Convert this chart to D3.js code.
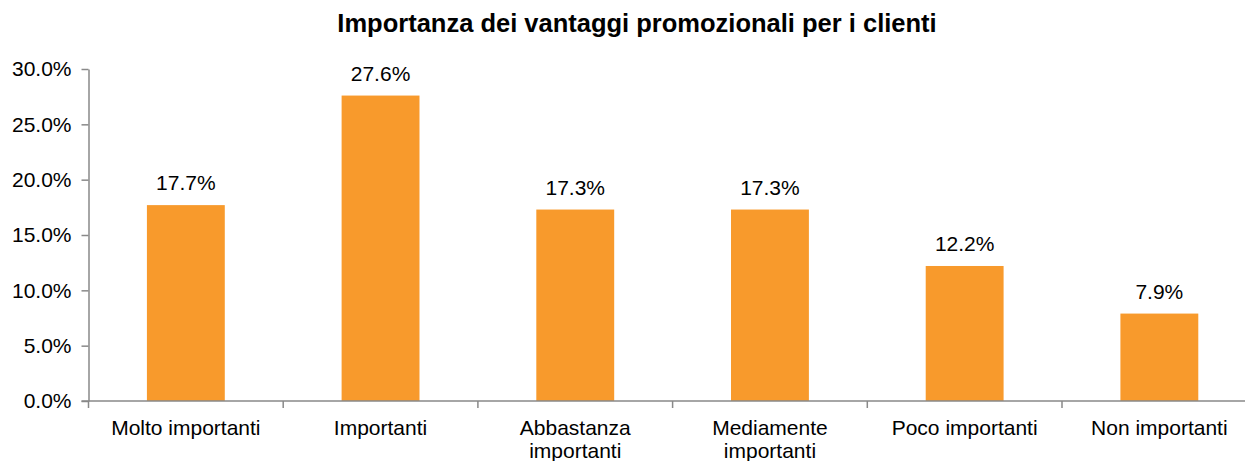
<!DOCTYPE html>
<html>
<head>
<meta charset="utf-8">
<script src="https://cdn.jsdelivr.net/npm/d3@7"></script>
<style>
  html, body { margin: 0; padding: 0; background: #fff; }
  svg { display: block; font-family: "Liberation Sans", Arial, sans-serif; }
</style>
</head>
<body>
<svg id="chart"></svg>
<script>
// chart data
const title = 'Importanza dei vantaggi promozionali per i clienti'
const categories = ['Molto importanti', 'Importanti', 'Abbastanza importanti',
  'Mediamente importanti', 'Poco importanti', 'Non importanti']
const values = [17.7, 27.6, 17.3, 17.3, 12.2, 7.9]
const yTicks = [0, 5, 10, 15, 20, 25, 30]

const width = 1245
const height = 461
const margin = { top: 69, left: 88.5, bottom: 60 }
const plotRight = 1256.7 // plot runs past the window edge, as in the reference

const svg = d3.select('#chart')
  .attr('width', width)
  .attr('height', height)

const x = d3.scaleBand()
  .domain(categories)
  .range([margin.left, plotRight])
  .paddingInner(0.6)
  .paddingOuter(0.3)

const y = d3.scaleLinear()
  .domain([0, 30])
  .range([height - margin.bottom, margin.top])

const axisColor = '#898989'

// title
svg.append('text')
  .attr('x', 637)
  .attr('y', 32)
  .attr('text-anchor', 'middle')
  .attr('font-size', 25.5)
  .attr('font-weight', 'bold')
  .attr('fill', '#000')
  .text(title)

// bars
svg.append('g')
  .selectAll('rect')
  .data(values)
  .enter().append('rect')
  .attr('x', (d, i) => x(categories[i]))
  .attr('y', d => y(d))
  .attr('width', x.bandwidth())
  .attr('height', d => y(0) - y(d))
  .attr('fill', '#f89a2c')

// value labels
svg.append('g')
  .selectAll('text')
  .data(values)
  .enter().append('text')
  .attr('x', (d, i) => x(categories[i]) + x.bandwidth() / 2)
  .attr('y', d => y(d) - 15)
  .attr('text-anchor', 'middle')
  .attr('font-size', 21)
  .attr('fill', '#000')
  .text(d => d.toFixed(1) + '%')

// y axis
const yAxis = svg.append('g')
  .attr('transform', `translate(${margin.left},0)`)
  .call(d3.axisLeft(y)
    .tickValues(yTicks)
    .tickSize(7)
    .tickSizeOuter(0)
    .tickPadding(10)
    .tickFormat(d => d.toFixed(1) + '%'))

yAxis.selectAll('text')
  .attr('font-size', 21)
  .attr('fill', '#000')
  .attr('font-family', '"Liberation Sans", Arial, sans-serif')

// x axis, ticks on category boundaries
const step = x.step()
const bounds = d3.range(categories.length + 1).map(i => margin.left + i * step)

const xAxis = svg.append('g')
xAxis.append('line')
  .attr('x1', margin.left - 7)
  .attr('x2', plotRight)
  .attr('y1', y(0))
  .attr('y2', y(0))
  .attr('stroke', axisColor)
  .attr('stroke-width', 1.5)

xAxis.selectAll('line.tick')
  .data(bounds)
  .enter().append('line')
  .attr('class', 'tick')
  .attr('x1', d => d)
  .attr('x2', d => d)
  .attr('y1', y(0))
  .attr('y2', y(0) + 7)
  .attr('stroke', axisColor)
  .attr('stroke-width', 1.5)

yAxis.selectAll('path, line').attr('stroke', axisColor).attr('stroke-width', 1.5)

// category labels, wrapped to the band width
const labels = xAxis.selectAll('text')
  .data(categories)
  .enter().append('text')
  .attr('x', d => x(d) + x.bandwidth() / 2)
  .attr('y', y(0) + 34)
  .attr('text-anchor', 'middle')
  .attr('font-size', 21)
  .attr('fill', '#000')

labels.each(function (d) {
  const el = d3.select(this)
  const words = d.split(' ')
  let line = []
  let lineNo = 0
  let tspan = el.append('tspan').attr('x', el.attr('x')).attr('dy', 0)
  words.forEach(w => {
    line.push(w)
    tspan.text(line.join(' '))
    if (tspan.node().getComputedTextLength() > step - 8 && line.length > 1) {
      line.pop()
      tspan.text(line.join(' '))
      line = [w]
      lineNo++
      tspan = el.append('tspan').attr('x', el.attr('x')).attr('dy', 23).text(w)
    }
  })
})
</script>
</body>
</html>
